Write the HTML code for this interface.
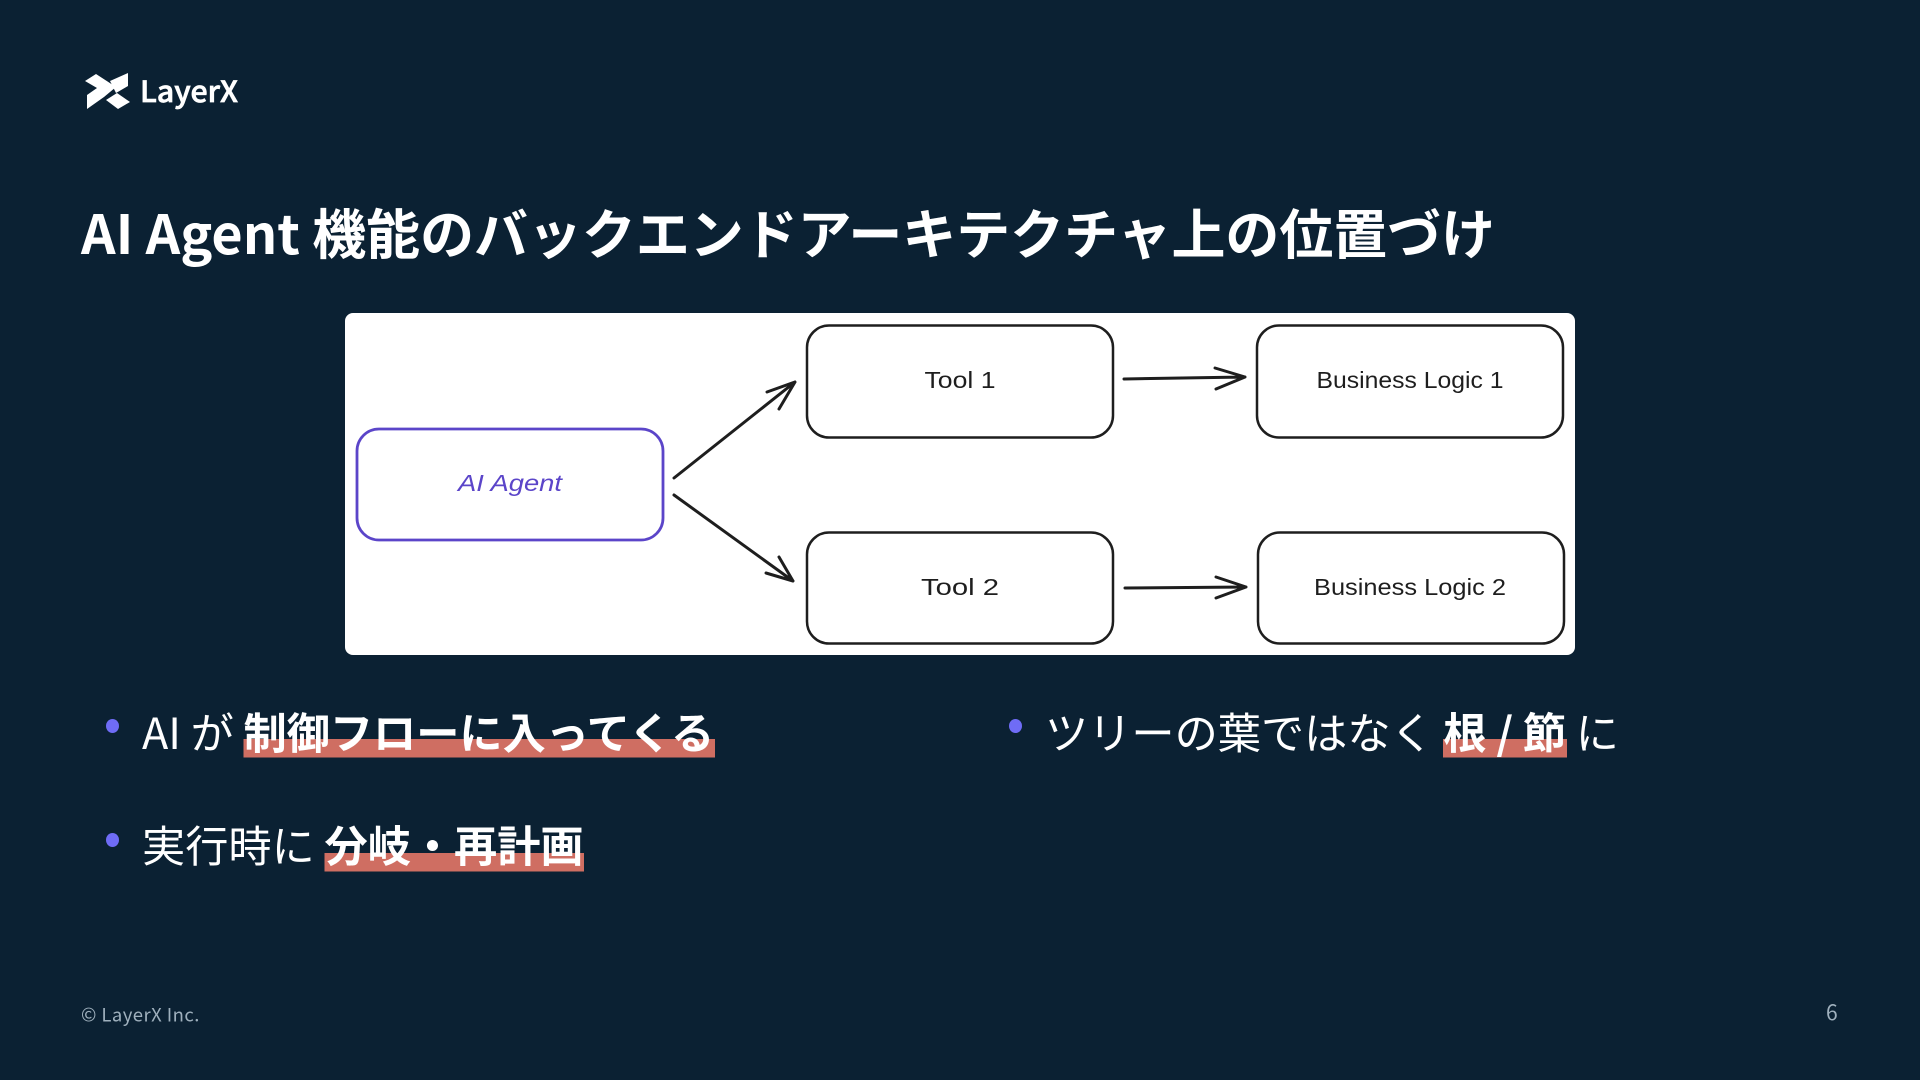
<!DOCTYPE html>
<html lang="ja">
<head>
<meta charset="utf-8">
<title>AI Agent</title>
<style>
html,body{margin:0;padding:0;background:#0b2133;width:1920px;height:1080px;overflow:hidden}
svg{display:block}
.jp{font-family:"Noto Sans CJK JP","Liberation Sans",sans-serif}
.hand{font-family:"Liberation Sans","DejaVu Sans",sans-serif;fill:#1e1e1e;text-anchor:middle}
.box{fill:none;stroke:#1e1e1e;stroke-width:2.5}
.arr{fill:none;stroke:#1e1e1e;stroke-width:3;stroke-linecap:round;stroke-linejoin:round}
</style>
</head>
<body>
<svg width="1920" height="1080" viewBox="0 0 1920 1080" xmlns="http://www.w3.org/2000/svg">
<rect width="1920" height="1080" fill="#0b2133"/>

<!-- logo -->
<g fill="#ffffff">
<polygon points="85,81 96,74 116,87 104,97 87,109 87,95 97,88"/>
<polygon points="110,81 128,73 128,86 116,93"/>
<polygon points="106,100 117,93 130,102 118,109"/>
</g>
<text class="jp" x="140" y="102" font-weight="500" font-size="29" fill="#fff" stroke="#fff" stroke-width="0.7" textLength="98" lengthAdjust="spacingAndGlyphs">LayerX</text>

<!-- title -->
<text class="jp" x="81" y="254" font-size="53.95" font-weight="700" fill="#ffffff" xml:space="preserve">AI Agent 機能のバックエンドアーキテクチャ上の位置づけ</text>

<!-- diagram card -->
<rect x="345" y="313" width="1230" height="342" rx="8" fill="#ffffff"/>

<rect x="357" y="429" width="306" height="111" rx="22" fill="none" stroke="#5b45c9" stroke-width="2.8"/>
<rect x="807" y="325.5" width="306" height="112" rx="22" class="box"/>
<rect x="807" y="532.5" width="306" height="111" rx="22" class="box"/>
<rect x="1257" y="325.5" width="306" height="112" rx="22" class="box"/>
<rect x="1258" y="532.5" width="306" height="111" rx="22" class="box"/>

<path class="arr" d="M674,478 L795,382 M767,392 L795,382 L779,409"/>
<path class="arr" d="M674,495 L793,581 M779,557 L793,581 L766,573"/>
<path class="arr" d="M1124,379 L1245,377 M1215,368 L1245,377 L1216,389"/>
<path class="arr" d="M1125,588 L1246,587 M1216,577 L1246,587 L1216,598"/>

<text class="hand" x="510" y="491" font-size="23" font-style="italic" style="fill:#5b45c9" textLength="104" lengthAdjust="spacingAndGlyphs">AI Agent</text>
<text class="hand" x="960" y="388" font-size="23" textLength="71" lengthAdjust="spacingAndGlyphs">Tool 1</text>
<text class="hand" x="960" y="595" font-size="23" textLength="78" lengthAdjust="spacingAndGlyphs">Tool 2</text>
<text class="hand" x="1410" y="388" font-size="23" textLength="187" lengthAdjust="spacingAndGlyphs">Business Logic 1</text>
<text class="hand" x="1410" y="595" font-size="23" textLength="192" lengthAdjust="spacingAndGlyphs">Business Logic 2</text>

<!-- highlights -->
<rect x="243.5" y="739" width="471.5" height="18.5" fill="#cf6e62"/>
<rect x="324.5" y="853" width="259.5" height="18.5" fill="#cf6e62"/>
<rect x="1443" y="739" width="124" height="18.5" fill="#cf6e62"/>

<!-- bullets -->
<ellipse cx="112.5" cy="726" rx="6.5" ry="7" fill="#6f6cf6"/>
<ellipse cx="112.5" cy="840" rx="6.5" ry="7" fill="#6f6cf6"/>
<ellipse cx="1015.5" cy="726" rx="6.5" ry="7" fill="#6f6cf6"/>

<g class="jp" font-size="43.2" font-weight="400" fill="#ffffff">
<text x="142" y="749" xml:space="preserve">AI が <tspan font-weight="700">制御フローに入ってくる</tspan></text>
<text x="142" y="862" xml:space="preserve">実行時に <tspan font-weight="700">分岐・再計画</tspan></text>
<text x="1045" y="749" xml:space="preserve">ツリーの葉ではなく <tspan font-weight="700">根 / 節</tspan> に</text>
</g>

<!-- footer -->
<text class="jp" x="81" y="1021.5" font-size="18.5" font-weight="400" letter-spacing="0.45" fill="#9fb0bd">© LayerX Inc.</text>
<text class="jp" x="1826" y="1020" font-size="21" font-weight="400" fill="#9fb0bd">6</text>
</svg>
</body>
</html>
